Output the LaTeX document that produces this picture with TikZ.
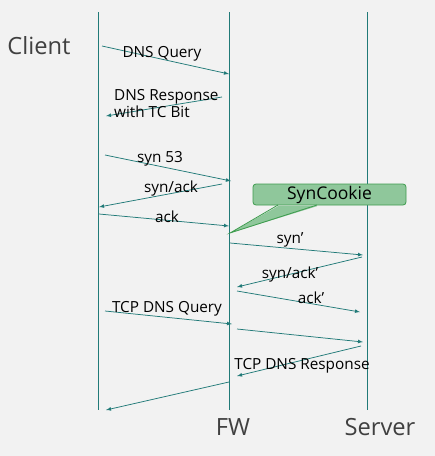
\documentclass[tikz,border=0pt]{standalone}
\usepackage{fontspec}
\setmainfont{Open Sans}
\definecolor{bgray}{HTML}{F2F2F2}
\definecolor{teal}{HTML}{217A78}
\definecolor{cookiefill}{HTML}{8FC79B}
\definecolor{cookieline}{HTML}{3E9C4E}
\definecolor{title}{HTML}{404040}
\begin{document}
\begin{tikzpicture}[x=1pt,y=-1pt,
    life/.style={teal, line width=0.8pt},
    msg/.style={->,>=latex, teal, line width=0.75pt},
    lbl/.style={inner sep=0pt, yshift=-1.5pt, font=\fontsize{15.3}{17}\selectfont},
    actor/.style={inner sep=0pt, title, font=\fontsize{23.7}{26}\selectfont}]
  \fill[bgray] (0,0) rectangle (435,456);
  \useasboundingbox (0,0) rectangle (435,456);
  % actors and lifelines
  \node[actor] (client) at (39,46) {Client};
  \node[actor] (fw) at (233,427) {FW};
  \node[actor] (server) at (380,427) {Server};
  \coordinate (ctop) at (98,12);  \coordinate (cbot) at (98,410);
  \coordinate (ftop) at (229,12); \coordinate (fbot) at (229,410);
  \coordinate (stop) at (367,12); \coordinate (sbot) at (367,410);
  \draw[life] (ctop) -- (cbot);
  \draw[life] (ftop) -- (fbot);
  \draw[life] (stop) -- (sbot);
  % UDP query, truncated answer
  \coordinate (q1) at (102,46);  \coordinate (q2) at (229,74);
  \coordinate (r1) at (222,97);  \coordinate (r2) at (106,116);
  \draw[msg] (q1) -- (q2);
  \draw[msg] (r1) -- (r2);
  \node[lbl] (query) at (162,52) {DNS Query};
  \node[lbl, anchor=west, align=left] (resp) at (114,102.5) {DNS Response\\with TC Bit};
  % handshake client - FW
  \coordinate (s1) at (105,155); \coordinate (s2) at (231,181);
  \coordinate (sa1) at (222,184); \coordinate (sa2) at (99,207);
  \coordinate (a1) at (99,214);  \coordinate (a2) at (229,226);
  \draw[msg] (s1) -- (s2);
  \draw[msg] (sa1) -- (sa2);
  \draw[msg] (a1) -- (a2);
  \node[lbl] (syn) at (160,157) {syn 53};
  \node[lbl] (synack) at (171,187) {syn/ack};
  \node[lbl] (ack) at (167,215) {ack};
  % callout
  \node[draw=cookieline, fill=cookiefill, line width=0.8pt, rounded corners=3pt,
        minimum width=153, minimum height=21, inner sep=0pt,
        font=\fontsize{17.5}{19}\selectfont] (cookie) at (329.5,194.5) {SynCookie};
  \coordinate (tip) at (230,233);
  \coordinate (b1) at (278,205); \coordinate (b2) at (317,205);
  \fill[cookiefill] ([yshift=-1.2]b1) -- (tip) -- ([yshift=-1.2]b2) -- cycle;
  \draw[cookieline, line width=0.8pt, line join=miter] (b1) -- (tip) -- (b2);
  % handshake FW - server
  \coordinate (t1) at (230,243); \coordinate (t2) at (363,255);
  \coordinate (ta1) at (362,257); \coordinate (ta2) at (237,287);
  \coordinate (tk1) at (237,291); \coordinate (tk2) at (360,312);
  \draw[msg] (t1) -- (t2);
  \draw[msg] (ta1) -- (ta2);
  \draw[msg] (tk1) -- (tk2);
  \node[lbl] (synp) at (290,238) {syn’};
  \node[lbl] (synackp) at (290,273) {syn/ack’};
  \node[lbl] (ackp) at (311,296) {ack’};
  % TCP query and response
  \coordinate (u1) at (105,311); \coordinate (u2) at (232,324);
  \coordinate (v1) at (237,329); \coordinate (v2) at (363,342);
  \coordinate (w1) at (361,346); \coordinate (w2) at (237,376);
  \coordinate (z1) at (229,382); \coordinate (z2) at (106,410);
  \draw[msg] (u1) -- (u2);
  \draw[msg] (v1) -- (v2);
  \draw[msg] (w1) -- (w2);
  \draw[msg] (z1) -- (z2);
  \node[lbl] (tcpq) at (167,307) {TCP DNS Query};
  \node[lbl] (tcpr) at (302,364) {TCP DNS Response};
\end{tikzpicture}
\end{document}
